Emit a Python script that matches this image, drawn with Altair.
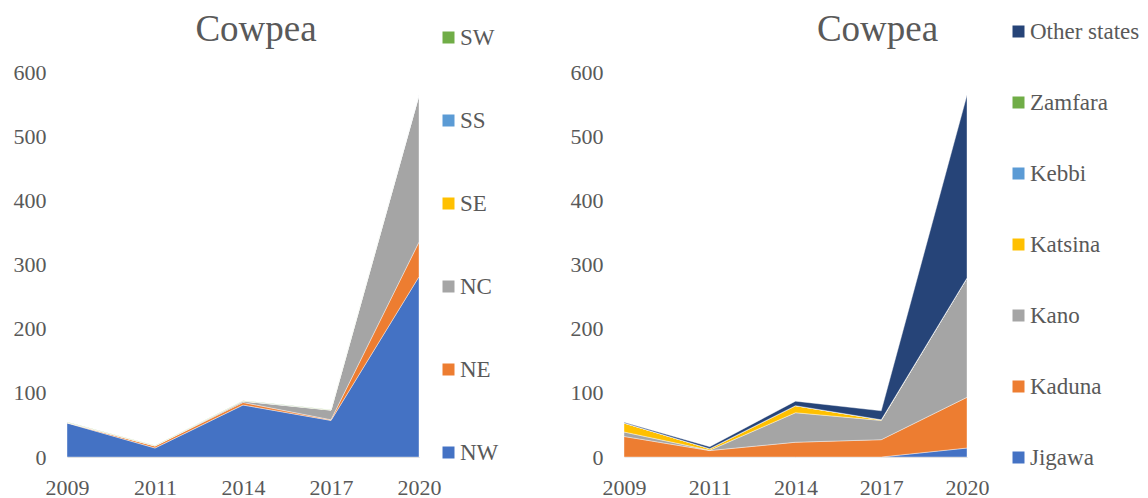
import altair as alt
import pandas as pd

years = ["2009", "2011", "2014", "2017", "2020"]

# Left panel: zones (bottom to top of stack)
zones = ["NW", "NE", "NC", "SE", "SS", "SW"]
zone_vals = {
    "NW": [53, 14, 81, 57, 281],
    "NE": [0.5, 3, 4, 1, 54],
    "NC": [0.3, 0.3, 2, 15, 229],
    "SE": [0.2, 0.2, 0.2, 0.2, 0.2],
    "SS": [0.2, 0.2, 0.2, 0.2, 0.2],
    "SW": [0.3, 0.3, 0.3, 0.3, 0.3],
}
zone_colors = ["#4472C4", "#ED7D31", "#A5A5A5", "#FFC000", "#5B9BD5", "#70AD47"]

# Right panel: states (bottom to top of stack)
states = ["Jigawa", "Kaduna", "Kano", "Katsina", "Kebbi", "Zamfara", "Other states"]
state_vals = {
    "Jigawa": [0, 0, 0, 0, 14],
    "Kaduna": [32, 10, 23, 27, 79],
    "Kano": [7, 0.5, 46, 30, 186],
    "Katsina": [14, 2.5, 11, 1, 0],
    "Kebbi": [0, 0, 0, 0, 0],
    "Zamfara": [0, 0, 0, 0, 0],
    "Other states": [1, 3, 7, 14, 285],
}
state_colors = ["#4472C4", "#ED7D31", "#A5A5A5", "#FFC000", "#5B9BD5", "#70AD47", "#264478"]

TITLE = "Cowpea"
FONT = "Liberation Serif"
GREY = "#595959"


def make_df(names, vals):
    rows = []
    for rank, n in enumerate(names):
        for y, v in zip(years, vals[n]):
            rows.append({"year": y, "series": n, "value": v, "rank": rank})
    return pd.DataFrame(rows)


def panel(names, vals, colors, width, legend_x, legend_y, row_pad, title_dx, title_off):
    df = make_df(names, vals)
    return alt.Chart(df).mark_area(stroke="white", strokeWidth=0.4).encode(
        x=alt.X("year:O", sort=years, scale=alt.Scale(padding=0),
                axis=alt.Axis(title=None, labelAngle=0, ticks=False, domain=True,
                              domainColor="#D9D9D9", labelFontSize=22, labelPadding=20,
                              labelColor=GREY, labelFont=FONT)),
        y=alt.Y("value:Q", stack="zero", scale=alt.Scale(domain=[0, 600], nice=False),
                axis=alt.Axis(title=None, values=[0, 100, 200, 300, 400, 500, 600],
                              grid=False, domain=False, ticks=False, labelFontSize=22,
                              labelPadding=21, labelColor=GREY, labelFont=FONT)),
        color=alt.Color("series:N",
                        scale=alt.Scale(domain=list(reversed(names)),
                                        range=list(reversed(colors))),
                        legend=alt.Legend(title=None, orient="none", legendX=legend_x,
                                          legendY=legend_y, symbolType="square",
                                          symbolSize=144, symbolStrokeWidth=0,
                                          labelFontSize=23, labelFont=FONT,
                                          labelColor=GREY, rowPadding=row_pad,
                                          labelOffset=0, padding=0)),
        order=alt.Order("rank:Q"),
    ).properties(
        width=width, height=385,
        title=alt.TitleParams(TITLE, font=FONT, fontSize=37, fontWeight="normal",
                              color=GREY, anchor="middle", dx=title_dx,
                              offset=title_off),
    )


left = panel(zones, zone_vals, zone_colors, 352, 370, -46, 59, 13, -23)
right = panel(states, state_vals, state_colors, 343, 383, -52, 47, 82, -29)

chart = alt.hconcat(left, right, spacing=71).resolve_scale(
    color="independent"
).properties(
    padding={"left": 5, "top": 3, "right": 0, "bottom": 0}
).configure_view(stroke=None)

chart.save("out.html", embed_options={"renderer": "svg", "actions": False})
